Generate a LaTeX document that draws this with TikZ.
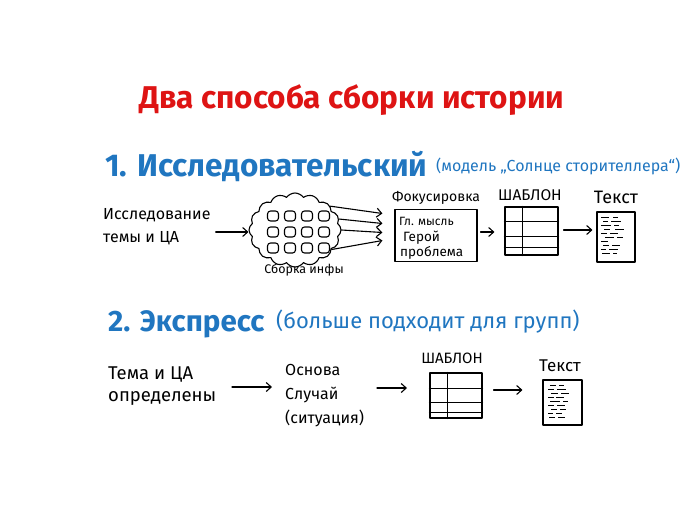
\documentclass[tikz,border=0pt]{standalone}
\usepackage{fontspec}
\setmainfont{Fira Sans}
\usetikzlibrary{arrows.meta,shapes.symbols}
\definecolor{titlered}{RGB}{222,20,20}
\definecolor{headblue}{RGB}{32,118,192}
\begin{document}
\begin{tikzpicture}[x=1pt,y=-1pt,
  ink/.style={line width=1.1pt, draw=black, line cap=round, line join=round},
  arr/.style={ink, -{Straight Barb[length=5pt,width=9pt]}},
  lbl/.style={inner sep=0pt, align=left},
  boxx/.style={ink, inner sep=0pt},
  sq/.style={ink, rounded corners=3pt, minimum width=11pt, minimum height=10pt, inner sep=0pt},
  dsh/.style={line width=1.2pt, line cap=butt},
  head/.style={inner sep=0pt, text=headblue},
]
\useasboundingbox (0,0) rectangle (700,525);

% title
\node[inner sep=0pt, anchor=base, text=titlered, font=\bfseries\fontsize{31.5}{34}\selectfont] (title) at (352,108) {Два способа сборки истории};

% section 1 heading
\node[head, anchor=base west, font=\bfseries\fontsize{31.5}{34}\selectfont] (h1) at (105,176) {1. Исследовательский};
\node[head, anchor=base west, font=\fontsize{16}{18}\selectfont] (h1b) at (436,171) {(модель „Солнце сторителлера“)};

% section 1 flow
\node[lbl, anchor=west, font=\fontsize{16}{23}\selectfont] (res) at (103,227) {Исследование\\темы и ЦА};

\node[cloud, cloud puffs=16, cloud puff arc=110, ink, minimum width=92pt, minimum height=74pt, inner sep=0pt] (cloud) at (295,230) {};
\foreach \r in {0,1,2}{
  \foreach \c in {0,1,2,3}{
    \node[sq] (s\r\c) at (273+\c*17, 216+\r*16) {};
  }
}
\node[lbl, anchor=north, font=\fontsize{12.5}{14}\selectfont] (sbor) at (304,264) {Сборка инфы};

\draw[arr, shorten <=5pt] (res.east |- 0,232) -- (cloud.west |- 0,232);

\node[boxx, draw, minimum width=82pt, minimum height=52pt] (focus) at (436,235.5) {};
\node[lbl, anchor=base, font=\fontsize{14}{16}\selectfont] (focl) at (436,201) {Фокусировка};
\node[lbl, anchor=base west, font=\fontsize{12}{13}\selectfont] (gm) at (399,225) {Гл. мысль};
\node[lbl, anchor=base west, font=\fontsize{13.5}{15}\selectfont] (ger) at (403,241) {Герой};
\node[lbl, anchor=base west, font=\fontsize{13.5}{15}\selectfont] (prob) at (400,256) {проблема};

\draw[arr] (cloud.34) -- ([shift={(-12,-22)}]focus.west);
\draw[arr] (cloud.14) -- ([shift={(-12,-12)}]focus.west);
\draw[arr] (cloud.0) -- ([shift={(-12,-3)}]focus.west);
\draw[arr] (cloud.-28) -- ([shift={(-12,5)}]focus.west);

% template 1
\node[boxx, draw, minimum width=53pt, minimum height=48pt] (tpl1) at (531.5,231) {};
\node[lbl, anchor=base, font=\fontsize{15.5}{17}\selectfont] (tpl1l) at (530,200) {ШАБЛОН};
\draw[ink] ([xshift=18pt]tpl1.north west) -- ([xshift=18pt]tpl1.south west);
\draw[ink] ([yshift=-15pt]tpl1.north west) -- ([yshift=-15pt]tpl1.north east);
\draw[ink] ([yshift=-30pt]tpl1.north west) -- ([yshift=-30pt]tpl1.north east);
\draw[ink] ([yshift=-41pt]tpl1.north west) -- ([yshift=-41pt]tpl1.north east);
\draw[arr, shorten <=3pt, shorten >=10pt] (focus.east |- 0,232) -- (tpl1.west |- 0,232);

% doc 1
\node[boxx, draw, minimum width=38pt, minimum height=50pt] (doc1) at (616,237) {};
\node[lbl, anchor=base, font=\fontsize{18}{20}\selectfont] (doc1l) at (616,203) {Текст};
\draw[arr, shorten <=5pt, shorten >=4pt] (tpl1.east |- 0,230) -- (doc1.west |- 0,230);
\begin{scope}[shift={(doc1.north west)}]
  \foreach \a/\b/\y in {5/13/6,17/22/6,7/12/10,15/25/10,5/15/14,18/23/14,8/14/18,19/28/18,5/11/22,14/22/22,9/18/26,21/27/26,5/12/30,7/13/34,16/24/34,5/10/38,13/22/38,6/14/42,17/21/42}{
    \draw[dsh] (\a,\y) -- (\b,\y);
  }
\end{scope}

% section 2 heading
\node[head, anchor=base west, font=\bfseries\fontsize{29.5}{32}\selectfont] (h2) at (108,331) {2. Экспресс};
\node[head, anchor=base west, font=\fontsize{22}{25}\selectfont] (h2b) at (276,328) {(больше подходит для групп)};

% section 2 flow
\node[lbl, anchor=west, font=\fontsize{18.5}{22}\selectfont] (theme) at (108,386) {Тема и ЦА\\определены};
\node[lbl, anchor=west, font=\fontsize{16}{24}\selectfont] (base) at (285,396) {Основа\\Случай\\(ситуация)};
\draw[arr] (232,387) -- (272,387);

\node[boxx, draw, minimum width=52pt, minimum height=45pt] (tpl2) at (456,395.5) {};
\node[lbl, anchor=base, font=\fontsize{15}{17}\selectfont] (tpl2l) at (452,363) {ШАБЛОН};
\draw[ink] ([xshift=18pt]tpl2.north west) -- ([xshift=18pt]tpl2.south west);
\draw[ink] ([yshift=-16pt]tpl2.north west) -- ([yshift=-16pt]tpl2.north east);
\draw[ink] ([yshift=-30pt]tpl2.north west) -- ([yshift=-30pt]tpl2.north east);
\draw[ink] ([yshift=-40pt]tpl2.north west) -- ([yshift=-40pt]tpl2.north east);

\node[boxx, draw, minimum width=39pt, minimum height=45pt] (doc2) at (562.5,402.5) {};
\node[lbl, anchor=base, font=\fontsize{17}{19}\selectfont] (doc2l) at (560,371) {Текст};
\begin{scope}[shift={(doc2.north west)}]
  \foreach \a/\b/\y in {8/14/6,17/22/6,6/12/10,15/24/10,9/16/14,19/27/14,6/12/18,14/22/18,8/18/22,21/26/22,6/12/26,15/23/26,9/15/30,18/24/30,6/11/34,14/20/34,7/13/38,16/23/38}{
    \draw[dsh] (\a,\y) -- (\b,\y);
  }
\end{scope}

\draw[arr] (377,388) -- (407,388);
\draw[arr, shorten <=11pt, shorten >=20pt] (tpl2.east |- 0,390) -- (doc2.west |- 0,390);
\end{tikzpicture}
\end{document}
